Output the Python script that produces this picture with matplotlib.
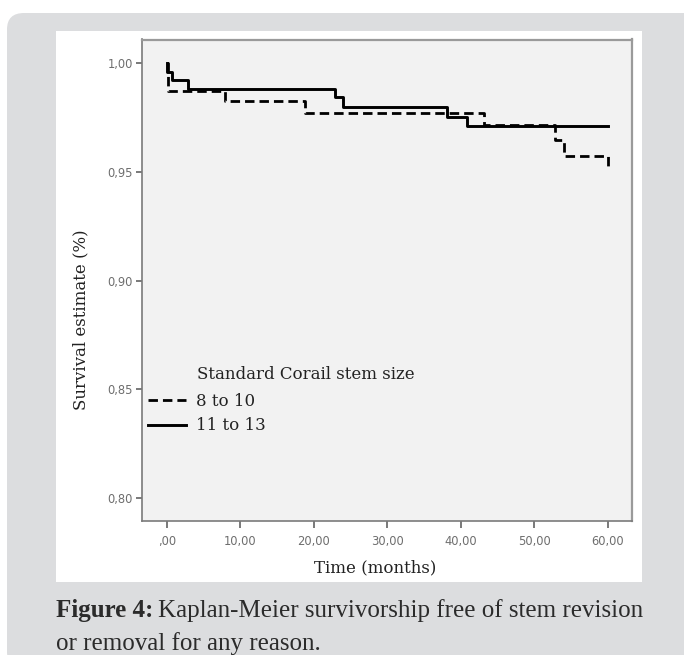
import numpy as np
import matplotlib.pyplot as plt
from matplotlib.patches import FancyBboxPatch, Rectangle

# Kaplan-Meier steps
t_small = [0.0, 0.2, 7.9, 18.8, 43.1, 52.8, 54.0, 60.0]
s_small = [1.0, 0.9874, 0.9828, 0.9770, 0.9717, 0.9647, 0.9575, 0.9509]

t_large = [0.0, 0.1, 0.7, 2.9, 22.9, 24.0, 38.1, 40.9, 60.1]
s_large = [1.0, 0.9961, 0.9923, 0.9880, 0.9846, 0.9800, 0.9754, 0.9713, 0.9713]

group_labels = ["8 to 10", "11 to 13"]
legend_title = "Standard Corail stem size"

x_ticks = [0, 10, 20, 30, 40, 50, 60]
x_ticklabels = [",00", "10,00", "20,00", "30,00", "40,00", "50,00", "60,00"]
y_ticks = [0.80, 0.85, 0.90, 0.95, 1.00]
y_ticklabels = ["0,80", "0,85", "0,90", "0,95", "1,00"]

W, H = 684, 655


def fx(px):
    return px / W


def fy(py):
    return 1 - py / H


fig = plt.figure(figsize=(W / 100, H / 100), dpi=100)
fig.patch.set_facecolor("white")

# gray card + white panel behind the chart
card = FancyBboxPatch((fx(7), -0.02), 1.1, fy(13) + 0.02,
                      boxstyle="round,pad=0,rounding_size=0.025",
                      transform=fig.transFigure, facecolor="#dcdddf",
                      edgecolor="none", zorder=0)
fig.add_artist(card)
panel = Rectangle((fx(56), fy(582)), fx(642) - fx(56), fy(31) - fy(582),
                  transform=fig.transFigure, facecolor="white",
                  edgecolor="none", zorder=0)
fig.add_artist(panel)

ax = fig.add_axes([fx(142), fy(520.7), fx(632) - fx(142), fy(39.5) - fy(520.7)])
ax.set_facecolor("#f2f2f2")

ax.step(t_small, s_small, where="post", color="black", lw=2.0,
        ls=(0, (3.4, 1.8)), label=group_labels[0])
ax.step(t_large, s_large, where="post", color="black", lw=2.1,
        label=group_labels[1])

ax.set_xlim(-3.36, 63.3)
ax.set_ylim(0.7896, 1.0110)
ax.set_xticks(x_ticks)
ax.set_xticklabels(x_ticklabels)
ax.set_yticks(y_ticks)
ax.set_yticklabels(y_ticklabels)
ax.tick_params(axis="both", direction="out", colors="#6e6e6e",
               labelsize=8.3, width=1.3)
ax.tick_params(axis="x", length=5, pad=5)
ax.tick_params(axis="y", length=4.5, pad=2)

for side in ["left", "bottom"]:
    ax.spines[side].set_color("#7a7a7a")
    ax.spines[side].set_linewidth(1.2)
for side in ["top", "right"]:
    ax.spines[side].set_color("#9a9a9a")
    ax.spines[side].set_linewidth(1.6)

lab_font = dict(family="DejaVu Serif", size=12, color="#222222")
fig.text(fx(81), fy(320), "Survival estimate (%)", rotation=90,
         ha="center", va="center", **lab_font)
fig.text(fx(375), fy(568), "Time (months)", ha="center", va="center",
         **lab_font)

leg = ax.legend(loc="center left", bbox_to_anchor=(0.012, 0.2224),
                frameon=False, prop={"family": "DejaVu Serif", "size": 12},
                handlelength=2.3, handletextpad=0.6, labelspacing=0.45,
                borderpad=0, borderaxespad=0)
for txt in leg.get_texts():
    txt.set_color("#222222")
ax.text(0.1122, 0.3028, legend_title, transform=ax.transAxes,
        ha="left", va="center", **lab_font)

# caption under the chart
cap_font = dict(family="Liberation Serif", size=18, color="#2b2b2b")
head = fig.text(fx(56), fy(611), "Figure 4:", ha="left", va="center",
                weight="bold", **cap_font)
fig.canvas.draw()
bb = head.get_window_extent()
fig.text(bb.x1 / W + fx(5), fy(611),
         "Kaplan-Meier survivorship free of stem revision",
         ha="left", va="center", **cap_font)
fig.text(fx(56), fy(644), "or removal for any reason.", ha="left",
         va="center", **cap_font)

fig.savefig("out.png", dpi=100)
